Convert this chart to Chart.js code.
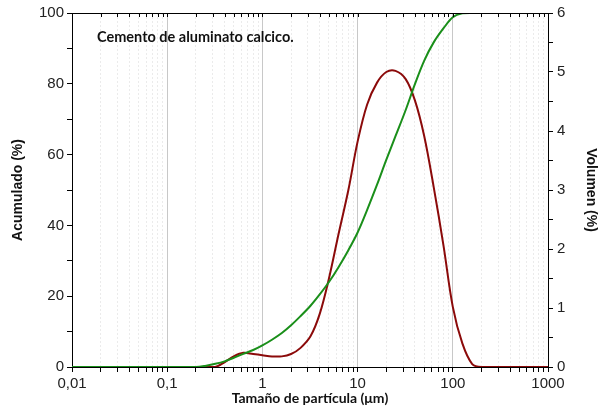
<!DOCTYPE html>
<html>
<head>
<meta charset="utf-8">
<script src="https://cdn.jsdelivr.net/npm/chart.js@4.4.1/dist/chart.umd.min.js"></script>
<style>
  html, body { margin: 0; padding: 0; background: #fff; }
  #wrap { width: 601px; height: 410px; }
</style>
</head>
<body>
<div id="wrap"><canvas id="psd" width="601" height="410"></canvas></div>
<script>
// ===== PARTICLE SIZE DISTRIBUTION =====

const sampleName = 'Cemento de aluminato calcico.';

// particle size (µm)
const sizes = [0.01, 0.2, 0.25, 0.32, 0.4, 0.5, 0.63, 0.8, 1, 1.26, 1.6, 2, 2.5, 3.2, 4, 5, 6.3, 8,
               10, 12.6, 16, 20, 25, 32, 40, 50, 63, 80, 100, 126, 160, 200, 1000];
// cumulative passing (%)
const cumulative = [0, 0, 0.3, 0.9, 1.6, 2.6, 3.7, 4.8, 6.1, 7.7, 9.6, 11.8, 14.3, 17.3, 20.5, 24.0, 28.2, 33.0,
                    38.0, 44.4, 51.5, 58.5, 65.2, 72.6, 79.9, 86.5, 91.7, 95.7, 98.8, 99.9, 100, 100, 100];
// volume fraction (%)
const volume = [0, 0, 0, 0, 0.08, 0.18, 0.24, 0.22, 0.2, 0.18, 0.18, 0.22, 0.32, 0.52, 0.9, 1.5, 2.25, 3.0,
                3.82, 4.45, 4.82, 5.0, 5.02, 4.88, 4.52, 3.92, 3.05, 2.05, 1.02, 0.4, 0.05, 0, 0];

const xTickValues = [0.01, 0.1, 1, 10, 100, 1000];
const xTickLabels = ['0,01', '0,1', '1', '10', '100', '1000'];
const leftTicks   = [0, 10, 20, 30, 40, 50, 60, 70, 80, 90, 100];
const leftLabels  = [0, 20, 40, 60, 80, 100];
const rightTicks  = [0, 0.5, 1, 1.5, 2, 2.5, 3, 3.5, 4, 4.5, 5, 5.5, 6];
const rightLabels = [0, 1, 2, 3, 4, 5, 6];

// decade ticks plus 2..9 inside each decade
const xAllTicks = [];
xTickValues.forEach((d, i) => {
  xAllTicks.push(d);
  if (i < xTickValues.length - 1) for (let k = 2; k <= 9; k++) xAllTicks.push(+(d * k).toPrecision(3));
});
const isDecade = v => xTickValues.some(d => Math.abs(d - v) / d < 1e-6);

const TICK_FONT  = { family: 'Liberation Sans, Arial, sans-serif', size: 15 };
const AXIS_FONT  = { family: 'Liberation Sans, Arial, sans-serif', size: 14, weight: 'bold' };
const XAXIS_FONT = { family: 'Lato, Carlito, sans-serif', size: 14, weight: 'bold' };

// ======== TOP FRAME + LABEL ========
const frameTop = {
  id: 'frameTop',
  afterDatasetsDraw(chart) {
    const { ctx, chartArea: a, scales: { x } } = chart;
    ctx.save();
    ctx.strokeStyle = '#000';
    ctx.lineWidth = 1;
    ctx.beginPath();
    ctx.moveTo(a.left, a.top + 0.5);
    ctx.lineTo(a.right, a.top + 0.5);
    x.ticks.forEach(t => {
      const px = Math.round(x.getPixelForValue(t.value)) + 0.5;
      ctx.moveTo(px, a.top);
      ctx.lineTo(px, a.top + 4);
    });
    ctx.stroke();

    ctx.font = 'bold 14.5px Lato, Carlito, sans-serif';
    ctx.fillStyle = '#111';
    ctx.textBaseline = 'middle';
    ctx.fillText(sampleName, a.left + 25, a.top + 24);
    ctx.restore();
  }
};

new Chart(document.getElementById('psd'), {
  type: 'line',
  data: {
    datasets: [
      {
        label: 'Acumulado',
        data: sizes.map((s, i) => ({ x: s, y: cumulative[i] })),
        yAxisID: 'y',
        borderColor: '#1a8f1a',
        borderWidth: 2,
        pointRadius: 0,
        tension: 0.35,
        fill: false,
      },
      {
        label: 'Volumen',
        data: sizes.map((s, i) => ({ x: s, y: volume[i] })),
        yAxisID: 'y1',
        borderColor: '#8b0a0a',
        borderWidth: 2,
        pointRadius: 0,
        tension: 0.35,
        fill: false,
      },
    ],
  },
  options: {
    responsive: false,
    animation: false,
    layout: { padding: { top: 13, left: 0, right: 0, bottom: 0 } },
    plugins: { legend: { display: false }, tooltip: { enabled: false } },
    scales: {
      x: {
        type: 'logarithmic',
        min: 0.01, max: 1000,
        afterBuildTicks: s => { s.ticks = xAllTicks.map(v => ({ value: v, major: isDecade(v) })); },
        afterFit: s => { s.height = 43; },
        ticks: {
          autoSkip: false, maxRotation: 0, padding: 3,
          color: '#222', font: TICK_FONT,
          callback: v => { const i = xTickValues.findIndex(d => Math.abs(d - v) / d < 1e-6); return i >= 0 ? xTickLabels[i] : ''; },
        },
        grid: {
          color: c => (c.tick && isDecade(c.tick.value)) ? '#c8c8c8' : '#ebebeb',
          lineWidth: 1,
          tickColor: '#000',
          tickLength: 5,
        },
        border: { color: '#000', width: 1, dash: c => (c.tick && !isDecade(c.tick.value)) ? [2, 2] : [] },
        title: { display: true, text: 'Tamaño de partícula (μm)', color: '#111', font: XAXIS_FONT, padding: { top: 0, bottom: 3 } },
      },
      y: {
        position: 'left',
        min: 0, max: 100,
        afterBuildTicks: s => { s.ticks = leftTicks.map(v => ({ value: v })); },
        afterFit: s => { s.width = 72; },
        ticks: { color: '#222', font: TICK_FONT, padding: 3, callback: v => leftLabels.includes(v) ? v : '' },
        grid: { drawOnChartArea: false, tickColor: '#000', tickLength: 5 },
        border: { color: '#000', width: 1 },
        title: { display: true, text: 'Acumulado (%)', color: '#111', font: AXIS_FONT, padding: { top: 10, bottom: 0 } },
      },
      y1: {
        position: 'right',
        min: 0, max: 6,
        afterBuildTicks: s => { s.ticks = rightTicks.map(v => ({ value: v })); },
        afterFit: s => { s.width = 53; },
        ticks: { color: '#222', font: TICK_FONT, padding: 4, callback: v => rightLabels.includes(v) ? v : '' },
        grid: { drawOnChartArea: false, tickColor: '#000', tickLength: 5 },
        border: { color: '#000', width: 1 },
        title: { display: true, text: 'Volumen (%)', color: '#111', font: AXIS_FONT, padding: { top: 2, bottom: 0 } },
      },
    },
  },
  plugins: [frameTop],
});
</script>
</body>
</html>
